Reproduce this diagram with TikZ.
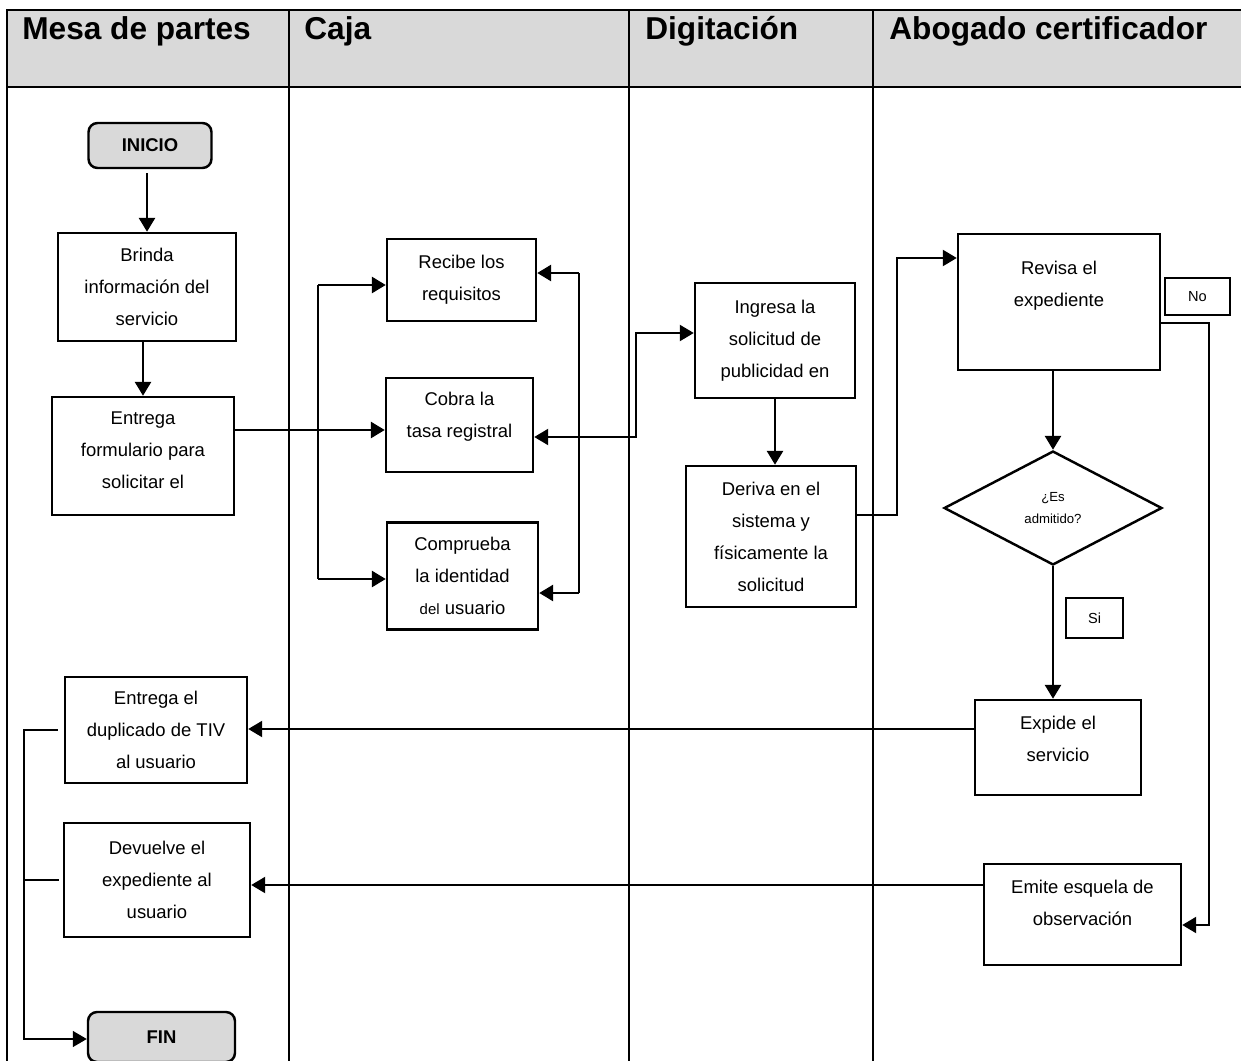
\documentclass[tikz,border=0pt]{standalone}
\usepackage{fontspec}
\setmainfont{Liberation Sans}
\usepackage{tikz}
\usetikzlibrary{shapes.geometric,arrows.meta}

\definecolor{headgray}{HTML}{D9D9D9}

\begin{document}
\begin{tikzpicture}[
x=0.02cm, y=-0.02cm,
tableline/.style={line width=1.3pt},
processnode/.style={rectangle, draw=black, line width=1.4pt, align=center, inner sep=2pt, font=\fontsize{10.5}{18.2}\selectfont},
terminalnode/.style={rectangle, rounded corners=0.18cm, draw=black, fill=headgray, line width=1.4pt, font=\fontsize{10.5}{12}\selectfont\bfseries},
decisionnode/.style={diamond, draw=black, line width=1.4pt, inner sep=0pt, align=center, font=\fontsize{7.5}{13}\selectfont},
answernode/.style={rectangle, draw=black, line width=0.7pt, font=\fontsize{8.3}{10}\selectfont},
lanetitle/.style={anchor=base west, inner sep=0pt, font=\fontsize{18}{20}\selectfont\bfseries},
flowarrow/.style={line width=1.6pt, -{Triangle[length=0.28cm, width=0.32cm]}},
thinline/.style={line width=0.8pt},
]
\useasboundingbox (0,0) rectangle (1241,1061);

%Lanes
\fill[headgray] (7,10) rectangle (1260,87);
\draw[tableline] (1260,10) -- (7,10) -- (7,1080);
\draw[tableline] (7,87) -- (1260,87);
\foreach \x in {289,629,873}
  \draw[tableline] (\x,10) -- (\x,1080);

\node[lanetitle] (tmesa)    at (22,40)  {Mesa de partes};
\node[lanetitle] (tcaja)    at (304,40) {Caja};
\node[lanetitle] (tdigita)  at (645,40) {Digitación};
\node[lanetitle] (tabogado) at (889,40) {Abogado certificador};

%Nodes
\node[terminalnode, minimum width=2.46cm, minimum height=0.9cm] (inicio) at (150,145.5) {INICIO};
\node[processnode, minimum width=3.56cm, minimum height=2.16cm] (brinda) at (147,287) {Brinda\\información del\\servicio};
\node[processnode, minimum width=3.64cm, minimum height=2.36cm, text depth=0.24cm] (entrega) at (143,456) {Entrega\\formulario para\\solicitar el};

\node[processnode, minimum width=2.98cm, minimum height=1.64cm] (recibe) at (461.5,280) {Recibe los\\requisitos};
\node[processnode, minimum width=2.94cm, minimum height=1.88cm, text depth=0.4cm] (cobra) at (459.5,425) {Cobra la\\tasa registral};
\node[processnode, minimum width=3.02cm, minimum height=2.14cm] (comprueba) at (462.5,576) {Comprueba\\la identidad\\{\fontsize{8.5}{18.2}\selectfont del} usuario};

\node[processnode, minimum width=3.2cm, minimum height=2.3cm] (ingresa) at (775,340.5) {Ingresa la\\solicitud de\\publicidad en};
\node[processnode, minimum width=3.4cm, minimum height=2.82cm] (deriva) at (771,536.5) {Deriva en el\\sistema y\\físicamente la\\solicitud};

\node[processnode, minimum width=4.04cm, minimum height=2.72cm, text depth=0.715cm] (revisa) at (1059,302) {Revisa el\\expediente};
\node[answernode, minimum width=1.3cm, minimum height=0.74cm] (nolabel) at (1197.5,296.5) {No};
\node[decisionnode, minimum width=4.36cm, minimum height=2.28cm] (decision) at (1053,508) {¿Es\\admitido?};
\node[answernode, minimum width=1.14cm, minimum height=0.8cm] (silabel) at (1094.5,618) {Si};
\node[processnode, minimum width=3.32cm, minimum height=1.9cm, text depth=0.36cm] (expide) at (1058,747.5) {Expide el\\servicio};
\node[processnode, minimum width=3.94cm, minimum height=2.02cm, text depth=0.48cm] (emite) at (1082.5,914.5) {Emite esquela de\\observación};

\node[processnode, minimum width=3.64cm, minimum height=2.12cm] (entregael) at (156,730) {Entrega el\\duplicado de TIV\\al usuario};
\node[processnode, minimum width=3.72cm, minimum height=2.28cm] (devuelve) at (157,880) {Devuelve el\\expediente al\\usuario};
\node[terminalnode, minimum width=2.94cm, minimum height=1.0cm] (fin) at (161.5,1037) {FIN};

\coordinate (fanltop) at (318,285);
\coordinate (fanlbot) at (318,579);
\coordinate (fanrtop) at (579,273);
\coordinate (fanrbot) at (579,593);

%Lines
\draw[flowarrow, shorten <=0.08cm] (inicio.south -| brinda.north) -- (brinda.north);
\draw[flowarrow] (brinda.south -| entrega.north) -- (entrega.north);
\draw[flowarrow] (entrega.east |- 0,430) -- (cobra.west |- 0,430);

\draw[thinline] (fanltop) -- (fanlbot);
\draw[flowarrow] (fanltop) -- (recibe.west |- fanltop);
\draw[flowarrow] (fanlbot) -- (comprueba.west |- fanlbot);
\draw[thinline] (fanrtop) -- (fanrbot);
\draw[flowarrow] (fanrtop) -- (recibe.east |- fanrtop);
\draw[flowarrow] (fanrbot) -- (comprueba.east |- fanrbot);

\draw[flowarrow, line width=1.3pt, {Triangle[length=0.28cm, width=0.32cm]}-{Triangle[length=0.28cm, width=0.32cm]}] (cobra.east |- 0,437) -| (636,333) -- (ingresa.west |- 0,333);
\draw[flowarrow] (ingresa.south) -- (ingresa.south |- deriva.north);
\draw[flowarrow, line width=1.3pt] (deriva.east |- 0,515) -| (897,258) -- (revisa.west |- 0,258);

\draw[flowarrow] (revisa.south -| decision.north) -- (decision.north);
\draw[flowarrow] (decision.south) -- (decision.south |- expide.north);
\draw[flowarrow, line width=1.3pt] (revisa.east |- 0,323) -| (1209,925) -- (emite.east |- 0,925);

\draw[flowarrow, line width=1.3pt] (expide.west |- 0,729) -- (entregael.east |- 0,729);
\draw[flowarrow, line width=1.3pt] (emite.west |- 0,885) -- (devuelve.east |- 0,885);

\draw[thinline, -{Triangle[length=0.28cm, width=0.32cm]}] ([xshift=-0.12cm]entregael.west) -| (24,1039) -- (fin.west |- 0,1039);
\draw[thinline] ([xshift=-0.08cm]devuelve.west) -- (24,880);

\end{tikzpicture}
\end{document}
